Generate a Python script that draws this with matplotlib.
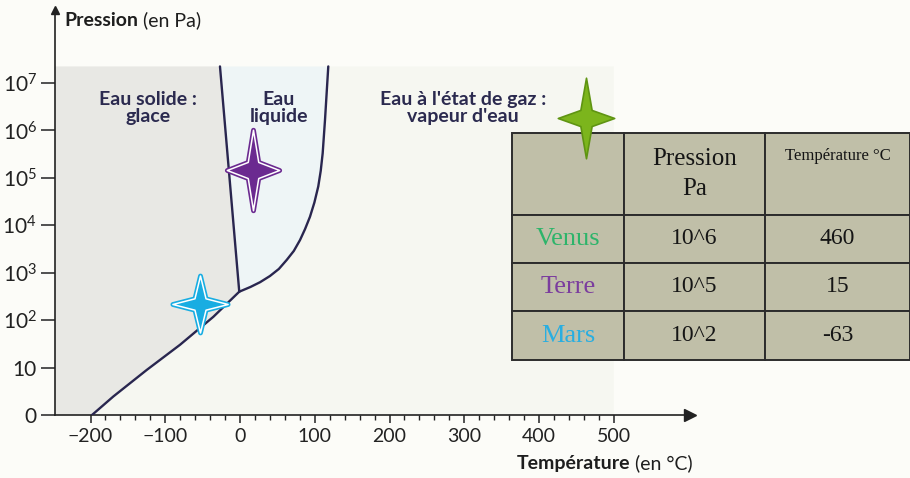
import numpy as np
import matplotlib
matplotlib.use("Agg")
import matplotlib.pyplot as plt
from matplotlib.path import Path
from matplotlib.lines import Line2D

plt.rcParams["font.family"] = ["Lato", "DejaVu Sans"]
plt.rcParams["mathtext.fontset"] = "custom"
plt.rcParams["mathtext.rm"] = "Lato"
plt.rcParams["mathtext.it"] = "Lato"

# phase boundaries (temperature in degC, pressure as decade index)
sub_T = [-198, -169.5, -124.8, -80.3, -35.7, -1]
sub_P = [0.0, 0.39, 0.95, 1.48, 2.07, 2.6]
vap_T = [-1, 14, 26.8, 40, 52, 62.5, 72, 80.3, 87, 93.6, 99.5, 104.7, 108, 110.6, 113.7, 118.1]
vap_P = [2.6, 2.7, 2.8, 2.93, 3.08, 3.27, 3.46, 3.69, 3.92, 4.18, 4.48, 4.82, 5.15, 5.52, 6.22, 7.35]
fus_T = [-1, -26.8]
fus_P = [2.6, 7.35]
top_P = 7.35
gas_right_T = 500

y_ticks = [0, 1, 2, 3, 4, 5, 6, 7]
y_labels = ["0", "10", "$10^2$", "$10^3$", "$10^4$", "$10^5$", "$10^6$", "$10^7$"]
x_ticks = [-200, -100, 0, 100, 200, 300, 400, 500]

# planet markers (position on chart)
star_names = ["Venus", "Terre", "Mars"]
star_T = [463, 17.8, -53.5]
star_P = [6.27, 5.17, 2.34]

# table
col_labels = ["", "Pression\nPa", "Température °C\n\n"]
planets = ["Venus", "Terre", "Mars"]
pressions = ["10^6", "10^5", "10^2"]
temperatures = ["460", "15", "-63"]
planet_colors = ["#2db46a", "#7b3d9e", "#2aaee0"]


def star_path(w, h, k=0.2):
    verts = [(0, h), (k * w, k * h), (w, 0), (k * w, -k * h), (0, -h),
             (-k * w, -k * h), (-w, 0), (-k * w, k * h), (0, h)]
    codes = [Path.MOVETO] + [Path.LINETO] * 7 + [Path.CLOSEPOLY]
    return Path(verts, codes)


fig = plt.figure(figsize=(9.1, 4.78), dpi=100, facecolor="#fcfcf8")
ax = fig.add_axes([55 / 910, 63 / 478, 635 / 910, 405 / 478])
ax.set_xlim(-247.5, 602)
ax.set_ylim(0, 8.54)
ax.patch.set_visible(False)

x_left = ax.get_xlim()[0]
# solid region
ax.fill([x_left] + sub_T + [fus_T[-1], x_left],
        [0] + sub_P + [top_P, top_P], color="#e8e8e4", lw=0, zorder=0)
# liquid region
ax.fill(fus_T + vap_T[::-1], fus_P + vap_P[::-1], color="#eef5f6", lw=0, zorder=0)
# gas region
ax.fill(sub_T + vap_T + [gas_right_T, gas_right_T],
        sub_P + vap_P + [top_P, 0], color="#f6f7f1", lw=0, zorder=0)

line_kw = dict(color="#29264f", lw=1.7, solid_capstyle="round", solid_joinstyle="round", zorder=3)
ax.plot(sub_T, sub_P, **line_kw)
ax.plot(vap_T, vap_P, **line_kw)
ax.plot(fus_T, fus_P, **line_kw)

# stars
ax.plot(star_T[1], star_P[1], marker=star_path(0.65, 1), ms=58, color="#6b2a90",
        mec="#6b2a90", mew=3.5, ls="none", zorder=5)
ax.plot(star_T[1], star_P[1], marker=star_path(0.65, 1), ms=58, color="#6b2a90",
        mec="white", mew=1.1, ls="none", zorder=6)
ax.plot(star_T[2], star_P[2], marker=star_path(0.97, 1), ms=41, color="#18ade2",
        mec="#18ade2", mew=3.5, ls="none", zorder=5)
ax.plot(star_T[2], star_P[2], marker=star_path(0.97, 1), ms=41, color="#18ade2",
        mec="white", mew=1.1, ls="none", zorder=6)

# region labels
lab_kw = dict(ha="center", va="center", fontsize=14, fontweight="bold",
              color="#2b2a4f", linespacing=1.0, zorder=4)
ax.text(-123, 6.48, "Eau solide :\nglace", **lab_kw)
ax.text(52, 6.48, "Eau\nliquide", **lab_kw)
ax.text(298, 6.48, "Eau à l'état de gaz :\nvapeur d'eau", **lab_kw)

# axes
for s in ["top", "right"]:
    ax.spines[s].set_visible(False)
for s in ["left", "bottom"]:
    ax.spines[s].set_color("#222222")
    ax.spines[s].set_linewidth(1.2)
ax.plot(0, 1, marker="^", ms=6, color="#222222", transform=ax.transAxes, clip_on=False)
ax.plot(1, 0, marker=">", ms=8, color="#222222", transform=ax.transAxes, clip_on=False)

ax.set_yticks(y_ticks)
ax.set_yticklabels(y_labels)
ax.set_xticks(x_ticks)
ax.set_xticks(np.arange(-200, 501, 20), minor=True)
ax.tick_params(axis="y", direction="out", length=10, width=1.1, pad=3,
               labelsize=15, colors="#222222")
ax.tick_params(axis="x", which="major", direction="out", length=6, width=1.1,
               pad=3, labelsize=14, colors="#222222")
ax.tick_params(axis="x", which="minor", direction="out", length=3.5, width=1.0,
               colors="#222222")
ax.xaxis.set_major_formatter(matplotlib.ticker.FuncFormatter(
    lambda v, p: f"{int(v)}".replace("-", "\u2212")))

t1 = fig.text(64 / 910, 1 - 20 / 478, "Pression", fontsize=14, fontweight="bold",
              color="#1e1e1e", va="center", ha="left")
ax.annotate(" (en Pa)", xy=(1, 0.5), xycoords=t1, va="center", ha="left",
            fontsize=14, color="#1e1e1e", annotation_clip=False)
t2 = fig.text(630 / 910, 1 - 463 / 478, "Température", fontsize=14, fontweight="bold",
              color="#1e1e1e", va="center", ha="right")
ax.annotate(" (en °C)", xy=(1, 0.5), xycoords=t2, va="center", ha="left",
            fontsize=14, color="#1e1e1e", annotation_clip=False)

# table
tab_ax = fig.add_axes([512 / 910, 118 / 478, 398 / 910, 227 / 478])
tab_ax.axis("off")
cell_text = [[planets[i], pressions[i], temperatures[i]] for i in range(3)]
col_w = [112, 141, 145]
row_h = [82, 48, 48, 49]
tbl = tab_ax.table(cellText=[col_labels] + cell_text,
                   colWidths=[w / sum(col_w) for w in col_w],
                   cellLoc="center", bbox=[0, 0, 1, 1])
tbl.auto_set_font_size(False)
for (r, c), cell in tbl.get_celld().items():
    cell.set_height(row_h[r] / sum(row_h))
    cell.set_facecolor("#c0bfa8")
    cell.set_edgecolor("#2c2c2c")
    cell.set_linewidth(1.4)
    txt = cell.get_text()
    txt.set_fontfamily(["Liberation Serif", "DejaVu Serif"])
    txt.set_fontsize(17)
    txt.set_color("#151515")
    if r == 0 and c == 1:
        txt.set_fontsize(18)
        txt.set_linespacing(1.5)
    if r == 0 and c == 2:
        txt.set_fontsize(12)
    if r > 0 and c == 0:
        txt.set_color(planet_colors[r - 1])
        txt.set_fontsize(19)

# green star sits on top of the table
fig.add_artist(Line2D([star_T[0]], [star_P[0]], transform=ax.transData,
                      marker=star_path(0.7, 1), ms=58, color="#7cb51c",
                      mec="#5f9412", mew=1.2, ls="none", zorder=6))

fig.savefig("out.png", dpi=100, facecolor=fig.get_facecolor())
